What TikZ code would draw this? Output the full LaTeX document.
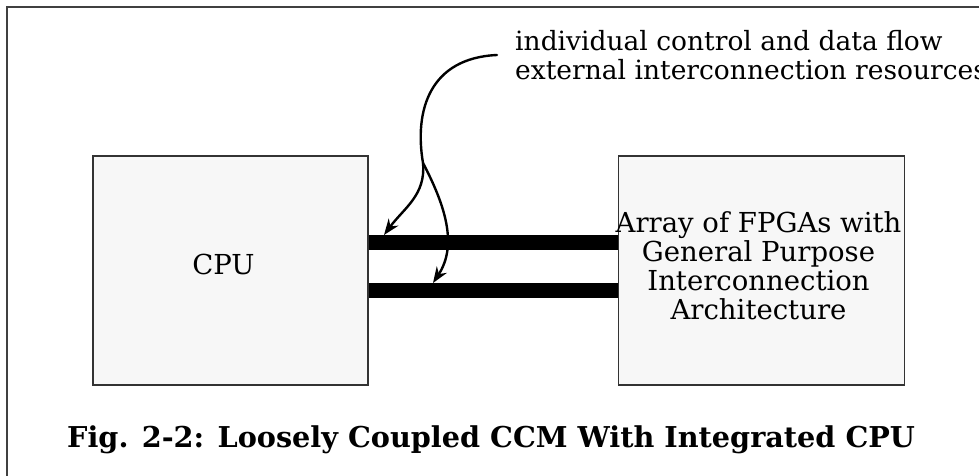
\documentclass[tikz,border=0pt]{standalone}
\usepackage{fontspec}
\setmainfont{DejaVu Serif}
\usetikzlibrary{arrows.meta,positioning}
\definecolor{framegray}{RGB}{64,64,64}
\definecolor{boxgray}{RGB}{51,51,51}
\definecolor{boxfill}{RGB}{247,247,247}

\begin{document}
\begin{tikzpicture}[x=1pt,y=-1pt,
  block/.style={draw=boxgray, line width=1.5pt, fill=boxfill,
    minimum height=229pt, inner sep=0pt},
  boxlabel/.style={font=\fontsize{27.5pt}{29pt}\selectfont, align=center, inner sep=0pt},
  note/.style={font=\fontsize{26.5pt}{29pt}\selectfont, align=left, inner sep=0pt},
  caption/.style={font=\fontsize{28.7pt}{34pt}\selectfont\bfseries, inner sep=0pt},
  bus/.style={line width=15pt},
  callout/.style={line width=2.4pt, line cap=round},
  tip/.style={-{Stealth[length=16pt,width=12pt]}}]

\useasboundingbox (0,0) rectangle (979,476);
\clip (0,0) rectangle (979,476);

% Outer frame (runs off the page at right and bottom)
\draw[framegray, line width=2pt] (7,7) rectangle (1000,500);

% The two blocks
\node[block, minimum width=275pt] (cpu) at (230.5,270.5) {};
\node[block, minimum width=286pt, right=249pt of cpu] (fpga) {};
\node[boxlabel] (cpulabel) at ([shift={(-7,-6)}]cpu.center) {CPU};
\node[boxlabel] (fpgalabel) at ([shift={(-3,-5)}]fpga.center)
  {Array of FPGAs with\\General Purpose\\Interconnection\\Architecture};

% Interconnection buses
\coordinate (bus1) at (0,242.5);
\coordinate (bus2) at (0,290.5);
\draw[bus] (cpu.east |- bus1) -- (fpga.west |- bus1);
\draw[bus] (cpu.east |- bus2) -- (fpga.west |- bus2);

% Callout text and its forked arrow
\node[note, anchor=west] (note) at (515,55)
  {individual control and data flow\\external interconnection resources};
\coordinate (fork) at (423,163);
\coordinate (tip1) at (384,235);
\coordinate (tip2) at (433,283);
\draw[callout] ([xshift=-18pt]note.west) .. controls (430,58) and (414,110) .. (fork);
\draw[callout, tip] (fork) .. controls (426,195) and (404,208) .. (tip1);
\draw[callout, tip] (fork) .. controls (445,205) and (458,245) .. (tip2);

% Caption
\node[caption, anchor=base west] (caption) at (67,447)
  {Fig. 2-2: Loosely Coupled CCM With Integrated CPU};

\end{tikzpicture}
\end{document}
